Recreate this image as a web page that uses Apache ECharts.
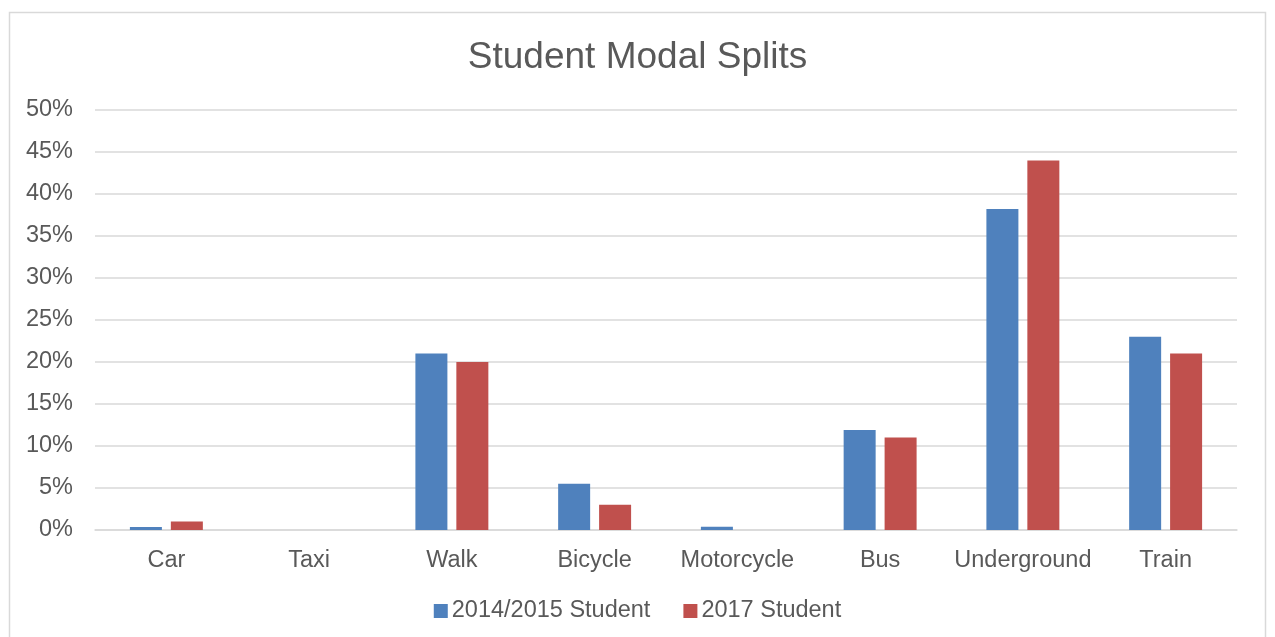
<!DOCTYPE html>
<html><head><meta charset="utf-8">
<script src="https://cdn.jsdelivr.net/npm/echarts@6/dist/echarts.min.js"></script>
<style>html,body{margin:0;padding:0;background:#fff}#c{width:1275px;height:637px}</style>
</head><body><div id="c"></div>
<script>
const categories = ['Car','Taxi','Walk','Bicycle','Motorcycle','Bus','Underground','Train'];
const series2014 = [0.35, 0, 21, 5.5, 0.4, 11.9, 38.2, 23];
const series2017 = [1, 0, 20, 3, 0, 11, 44, 21];
const seriesNames = ['2014/2015 Student', '2017 Student'];
const FONT = '"Liberation Sans", Arial, sans-serif';
const chart = echarts.init(document.getElementById('c'), null, {renderer:'canvas'});
chart.setOption({
  animation:false,
  backgroundColor:'#fff',
  graphic:[{type:'rect', shape:{x:9.5,y:12.5,width:1256,height:640}, style:{fill:'none',stroke:'#d9d9d9',lineWidth:1.5}, z:-1}],
  title:{text:'Student Modal Splits', left:'center', top:34, textStyle:{fontFamily:FONT, fontSize:37, fontWeight:'normal', color:'#595959'}},
  legend:{bottom:9, left:'center', itemWidth:14, itemHeight:14, itemGap:33, icon:'rect',
    textStyle:{fontFamily:FONT, fontSize:23.5, color:'#595959', padding:[0,0,0,-1]}, data:seriesNames},
  grid:{left:95, right:38, top:110, bottom:107},
  xAxis:{type:'category', data:categories,
    axisLine:{lineStyle:{color:'#d9d9d9', width:1.5}}, axisTick:{show:false},
    axisLabel:{interval:0, fontFamily:FONT, fontSize:23.5, color:'#595959', margin:19}},
  yAxis:{type:'value', min:0, max:50, interval:5,
    axisLine:{show:false}, axisTick:{show:false},
    splitLine:{lineStyle:{color:'#d9d9d9', width:1.5}},
    axisLabel:{fontFamily:FONT, fontSize:23.5, color:'#595959', margin:22, padding:[4,0,0,0], formatter:'{value}%'}},
  series:[
    {name:seriesNames[0], type:'bar', data:series2014, barWidth:32, barGap:'28%', itemStyle:{color:'#4f81bd'}},
    {name:seriesNames[1], type:'bar', data:series2017, barWidth:32, itemStyle:{color:'#c0504d'}}
  ]
});
</script></body></html>
